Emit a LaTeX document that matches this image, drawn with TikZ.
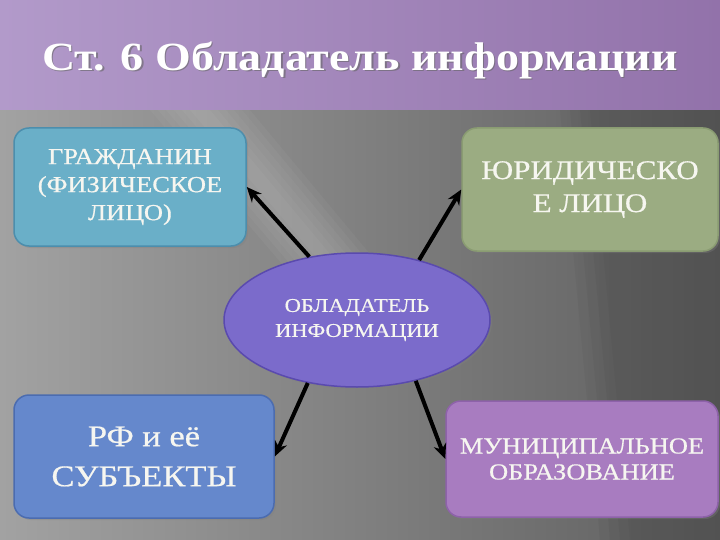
\documentclass[tikz,border=0pt]{standalone}
\usepackage{fontspec}
\setmainfont[FakeStretch=1.15,FakeBold=0.6,BoldFeatures={FakeBold=0}]{Liberation Serif}
\usetikzlibrary{arrows.meta,shapes.geometric,shadows}
\definecolor{titleL}{HTML}{B29ACA}
\definecolor{titleM}{HTML}{C8B2DA}
\definecolor{titleR}{HTML}{9272AA}
\definecolor{bgL}{HTML}{A2A2A2}
\definecolor{bgM}{HTML}{787878}
\definecolor{bgR}{HTML}{5E5E5E}
\definecolor{tlfill}{HTML}{6AAFC8}
\definecolor{tldraw}{HTML}{4C8EAD}
\definecolor{trfill}{HTML}{9BAC82}
\definecolor{trdraw}{HTML}{8A9C72}
\definecolor{elfill}{HTML}{7B6BCB}
\definecolor{eldraw}{HTML}{5A4AAE}
\definecolor{blfill}{HTML}{6588CC}
\definecolor{bldraw}{HTML}{4B6CB0}
\definecolor{brfill}{HTML}{A87CC0}
\definecolor{brdraw}{HTML}{8E62AA}
\definecolor{txt}{HTML}{F6F6F0}
\tikzset{
  boxstyle/.style={rounded corners=15pt, line width=1.5pt, text=txt, align=center, inner sep=0pt,
    drop shadow={opacity=0.35, shadow xshift=2pt, shadow yshift=-2pt}},
  conn/.style={line width=4pt, black, -{Stealth[length=15pt,width=13pt]}}
}
\begin{document}
\begin{tikzpicture}[x=1pt,y=-1pt]
\useasboundingbox (0,0) rectangle (720,540);
% backgrounds
\shade[left color=bgL, middle color=bgM, right color=bgR] (0,108) rectangle (720,540);
\foreach \s in {0,8,16,24,32,40}{
  \fill[white,opacity=0.035] (150+\s,110) -- (250-\s,110) -- (400-\s,290) -- (330+\s,320) -- cycle;
}
\foreach \s in {0,10,20,30}{
  \fill[black,opacity=0.03] (560+\s,110) -- (720,110) -- (720,540) -- (600+\s,540) -- cycle;
}
\shade[left color=titleL, middle color=titleM, right color=titleR] (0,0) rectangle (720,110);
% title
\node[text=black!60,opacity=0.6,font=\bfseries\fontsize{40}{48}\selectfont] at (361.5,61.5) {Ст. 6 Обладатель информации};
\node[text=white,font=\bfseries\fontsize{40}{48}\selectfont] (title) at (360,60) {Ст. 6 Обладатель информации};
% boxes
\node[boxstyle, fill=tlfill, draw=tldraw, minimum width=232pt, minimum height=118pt,
  font=\fontsize{23}{28}\selectfont] (tl) at (130,187) {ГРАЖДАНИН\\(ФИЗИЧЕСКОЕ\\ЛИЦО)};
\node[boxstyle, fill=trfill, draw=trdraw, minimum width=256pt, minimum height=123pt,
  font=\fontsize{27}{33}\selectfont] (tr) at (590,189.5) {ЮРИДИЧЕСКО\\Е ЛИЦО};
\node[ellipse, fill=elfill, draw=eldraw, line width=1.5pt, text=txt, align=center, inner sep=0pt,
  minimum width=266pt, minimum height=134pt,
  drop shadow={opacity=0.35, shadow xshift=2pt, shadow yshift=-2pt},
  font=\fontsize{19.5}{25}\selectfont] (el) at (357,320) {ОБЛАДАТЕЛЬ\\ИНФОРМАЦИИ};
\node[boxstyle, fill=blfill, draw=bldraw, minimum width=260pt, minimum height=123pt,
  font=\fontsize{30}{40}\selectfont] (bl) at (144,456.5) {РФ и её\\СУБЪЕКТЫ};
\node[boxstyle, fill=brfill, draw=brdraw, minimum width=272pt, minimum height=116pt,
  font=\fontsize{23}{26}\selectfont] (br) at (582,459) {МУНИЦИПАЛЬНОЕ\\ОБРАЗОВАНИЕ};
% connectors
\draw[conn] (el.127) -- (tl.east);
\draw[conn] (el.44) -- (tr.west);
\draw[conn] (el.-128) -- (bl.east);
\draw[conn] (el.-46) -- (br.west);
\end{tikzpicture}
\end{document}
